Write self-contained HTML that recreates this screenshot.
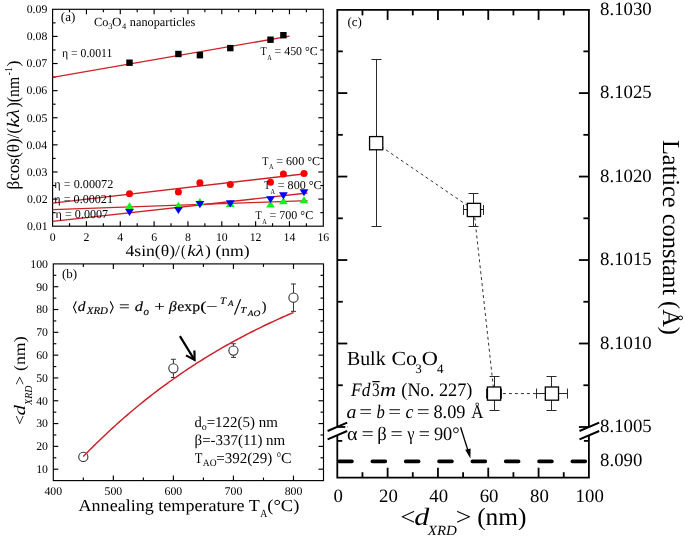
<!DOCTYPE html>
<html><head><meta charset="utf-8"><style>
html,body{margin:0;padding:0;background:#fff;}
svg{display:block;filter:blur(0.4px);}
text{font-family:"Liberation Serif", serif;fill:#000;text-rendering:geometricPrecision;}
</style></head><body>
<svg width="685" height="538" viewBox="0 0 685 538">
<rect width="685" height="538" fill="#fff"/>
<rect x="52.6" y="9.3" width="270.7" height="216.9" fill="none" stroke="#000" stroke-width="1.15"/>
<text x="52.6" y="240.5" font-size="11.8" text-anchor="middle" >0</text>
<line x1="69.52" y1="226.2" x2="69.52" y2="223.2" stroke="#000" stroke-width="1.15" />
<line x1="69.52" y1="9.3" x2="69.52" y2="12.3" stroke="#000" stroke-width="1.15" />
<line x1="86.44" y1="226.2" x2="86.44" y2="221.2" stroke="#000" stroke-width="1.15" />
<line x1="86.44" y1="9.3" x2="86.44" y2="14.3" stroke="#000" stroke-width="1.15" />
<text x="86.44" y="240.5" font-size="11.8" text-anchor="middle" >2</text>
<line x1="103.36" y1="226.2" x2="103.36" y2="223.2" stroke="#000" stroke-width="1.15" />
<line x1="103.36" y1="9.3" x2="103.36" y2="12.3" stroke="#000" stroke-width="1.15" />
<line x1="120.28" y1="226.2" x2="120.28" y2="221.2" stroke="#000" stroke-width="1.15" />
<line x1="120.28" y1="9.3" x2="120.28" y2="14.3" stroke="#000" stroke-width="1.15" />
<text x="120.28" y="240.5" font-size="11.8" text-anchor="middle" >4</text>
<line x1="137.19" y1="226.2" x2="137.19" y2="223.2" stroke="#000" stroke-width="1.15" />
<line x1="137.19" y1="9.3" x2="137.19" y2="12.3" stroke="#000" stroke-width="1.15" />
<line x1="154.11" y1="226.2" x2="154.11" y2="221.2" stroke="#000" stroke-width="1.15" />
<line x1="154.11" y1="9.3" x2="154.11" y2="14.3" stroke="#000" stroke-width="1.15" />
<text x="154.11" y="240.5" font-size="11.8" text-anchor="middle" >6</text>
<line x1="171.03" y1="226.2" x2="171.03" y2="223.2" stroke="#000" stroke-width="1.15" />
<line x1="171.03" y1="9.3" x2="171.03" y2="12.3" stroke="#000" stroke-width="1.15" />
<line x1="187.95" y1="226.2" x2="187.95" y2="221.2" stroke="#000" stroke-width="1.15" />
<line x1="187.95" y1="9.3" x2="187.95" y2="14.3" stroke="#000" stroke-width="1.15" />
<text x="187.95" y="240.5" font-size="11.8" text-anchor="middle" >8</text>
<line x1="204.87" y1="226.2" x2="204.87" y2="223.2" stroke="#000" stroke-width="1.15" />
<line x1="204.87" y1="9.3" x2="204.87" y2="12.3" stroke="#000" stroke-width="1.15" />
<line x1="221.79" y1="226.2" x2="221.79" y2="221.2" stroke="#000" stroke-width="1.15" />
<line x1="221.79" y1="9.3" x2="221.79" y2="14.3" stroke="#000" stroke-width="1.15" />
<text x="221.79" y="240.5" font-size="11.8" text-anchor="middle" >10</text>
<line x1="238.71" y1="226.2" x2="238.71" y2="223.2" stroke="#000" stroke-width="1.15" />
<line x1="238.71" y1="9.3" x2="238.71" y2="12.3" stroke="#000" stroke-width="1.15" />
<line x1="255.62" y1="226.2" x2="255.62" y2="221.2" stroke="#000" stroke-width="1.15" />
<line x1="255.62" y1="9.3" x2="255.62" y2="14.3" stroke="#000" stroke-width="1.15" />
<text x="255.62" y="240.5" font-size="11.8" text-anchor="middle" >12</text>
<line x1="272.54" y1="226.2" x2="272.54" y2="223.2" stroke="#000" stroke-width="1.15" />
<line x1="272.54" y1="9.3" x2="272.54" y2="12.3" stroke="#000" stroke-width="1.15" />
<line x1="289.46" y1="226.2" x2="289.46" y2="221.2" stroke="#000" stroke-width="1.15" />
<line x1="289.46" y1="9.3" x2="289.46" y2="14.3" stroke="#000" stroke-width="1.15" />
<text x="289.46" y="240.5" font-size="11.8" text-anchor="middle" >14</text>
<line x1="306.38" y1="226.2" x2="306.38" y2="223.2" stroke="#000" stroke-width="1.15" />
<line x1="306.38" y1="9.3" x2="306.38" y2="12.3" stroke="#000" stroke-width="1.15" />
<text x="323.3" y="240.5" font-size="11.8" text-anchor="middle" >16</text>
<text x="47.61" y="230" font-size="11.8" text-anchor="end" >0.01</text>
<line x1="52.6" y1="212.64" x2="55.6" y2="212.64" stroke="#000" stroke-width="1.15" />
<line x1="323.3" y1="212.64" x2="320.3" y2="212.64" stroke="#000" stroke-width="1.15" />
<line x1="52.6" y1="199.09" x2="57.6" y2="199.09" stroke="#000" stroke-width="1.15" />
<line x1="323.3" y1="199.09" x2="318.3" y2="199.09" stroke="#000" stroke-width="1.15" />
<text x="47.55" y="202.89" font-size="11.8" text-anchor="end" >0.02</text>
<line x1="52.6" y1="185.53" x2="55.6" y2="185.53" stroke="#000" stroke-width="1.15" />
<line x1="323.3" y1="185.53" x2="320.3" y2="185.53" stroke="#000" stroke-width="1.15" />
<line x1="52.6" y1="171.97" x2="57.6" y2="171.97" stroke="#000" stroke-width="1.15" />
<line x1="323.3" y1="171.97" x2="318.3" y2="171.97" stroke="#000" stroke-width="1.15" />
<text x="47.36" y="175.78" font-size="11.8" text-anchor="end" >0.03</text>
<line x1="52.6" y1="158.42" x2="55.6" y2="158.42" stroke="#000" stroke-width="1.15" />
<line x1="323.3" y1="158.42" x2="320.3" y2="158.42" stroke="#000" stroke-width="1.15" />
<line x1="52.6" y1="144.86" x2="57.6" y2="144.86" stroke="#000" stroke-width="1.15" />
<line x1="323.3" y1="144.86" x2="318.3" y2="144.86" stroke="#000" stroke-width="1.15" />
<text x="47.08" y="148.66" font-size="11.8" text-anchor="end" >0.04</text>
<line x1="52.6" y1="131.31" x2="55.6" y2="131.31" stroke="#000" stroke-width="1.15" />
<line x1="323.3" y1="131.31" x2="320.3" y2="131.31" stroke="#000" stroke-width="1.15" />
<line x1="52.6" y1="117.75" x2="57.6" y2="117.75" stroke="#000" stroke-width="1.15" />
<line x1="323.3" y1="117.75" x2="318.3" y2="117.75" stroke="#000" stroke-width="1.15" />
<text x="47.36" y="121.55" font-size="11.8" text-anchor="end" >0.05</text>
<line x1="52.6" y1="104.19" x2="55.6" y2="104.19" stroke="#000" stroke-width="1.15" />
<line x1="323.3" y1="104.19" x2="320.3" y2="104.19" stroke="#000" stroke-width="1.15" />
<line x1="52.6" y1="90.64" x2="57.6" y2="90.64" stroke="#000" stroke-width="1.15" />
<line x1="323.3" y1="90.64" x2="318.3" y2="90.64" stroke="#000" stroke-width="1.15" />
<text x="47.25" y="94.44" font-size="11.8" text-anchor="end" >0.06</text>
<line x1="52.6" y1="77.08" x2="55.6" y2="77.08" stroke="#000" stroke-width="1.15" />
<line x1="323.3" y1="77.08" x2="320.3" y2="77.08" stroke="#000" stroke-width="1.15" />
<line x1="52.6" y1="63.53" x2="57.6" y2="63.53" stroke="#000" stroke-width="1.15" />
<line x1="323.3" y1="63.53" x2="318.3" y2="63.53" stroke="#000" stroke-width="1.15" />
<text x="47.24" y="67.33" font-size="11.8" text-anchor="end" >0.07</text>
<line x1="52.6" y1="49.97" x2="55.6" y2="49.97" stroke="#000" stroke-width="1.15" />
<line x1="323.3" y1="49.97" x2="320.3" y2="49.97" stroke="#000" stroke-width="1.15" />
<line x1="52.6" y1="36.41" x2="57.6" y2="36.41" stroke="#000" stroke-width="1.15" />
<line x1="323.3" y1="36.41" x2="318.3" y2="36.41" stroke="#000" stroke-width="1.15" />
<text x="47.35" y="40.21" font-size="11.8" text-anchor="end" >0.08</text>
<line x1="52.6" y1="22.86" x2="55.6" y2="22.86" stroke="#000" stroke-width="1.15" />
<line x1="323.3" y1="22.86" x2="320.3" y2="22.86" stroke="#000" stroke-width="1.15" />
<text x="47.38" y="13.1" font-size="11.8" text-anchor="end" >0.09</text>
<line x1="52.6" y1="77.4" x2="289.5" y2="36.2" stroke="#cc2229" stroke-width="1.35" />
<line x1="52.6" y1="203.2" x2="307.5" y2="173.5" stroke="#cc2229" stroke-width="1.35" />
<line x1="52.6" y1="209.6" x2="307.5" y2="200.7" stroke="#cc2229" stroke-width="1.35" />
<line x1="52.6" y1="221.4" x2="307.5" y2="193" stroke="#cc2229" stroke-width="1.35" />
<rect x="126.3" y="59.5" width="6.4" height="6.4" fill="#000"/>
<rect x="175.2" y="50.8" width="6.4" height="6.4" fill="#000"/>
<rect x="196.7" y="52" width="6.4" height="6.4" fill="#000"/>
<rect x="227.1" y="44.9" width="6.4" height="6.4" fill="#000"/>
<rect x="267.3" y="36.5" width="6.4" height="6.4" fill="#000"/>
<rect x="280.2" y="32" width="6.4" height="6.4" fill="#000"/>
<path d="M129.5 202.2 L133.9 209.3 L125.1 209.3 Z" fill="#19f019"/>
<path d="M178.4 201.7 L182.8 208.8 L174 208.8 Z" fill="#19f019"/>
<path d="M199.9 198 L204.3 205.1 L195.5 205.1 Z" fill="#19f019"/>
<path d="M230.3 200 L234.7 207.1 L225.9 207.1 Z" fill="#19f019"/>
<path d="M270.5 200.4 L274.9 207.5 L266.1 207.5 Z" fill="#19f019"/>
<path d="M283.4 197.2 L287.8 204.3 L279 204.3 Z" fill="#19f019"/>
<path d="M304 196.2 L308.4 203.3 L299.6 203.3 Z" fill="#19f019"/>
<path d="M129.5 216.1 L133.9 209 L125.1 209 Z" fill="#0000f5"/>
<path d="M178.4 214.1 L182.8 207 L174 207 Z" fill="#0000f5"/>
<path d="M199.9 208.2 L204.3 201.1 L195.5 201.1 Z" fill="#0000f5"/>
<path d="M230.3 207.4 L234.7 200.3 L225.9 200.3 Z" fill="#0000f5"/>
<path d="M270.5 203.3 L274.9 196.2 L266.1 196.2 Z" fill="#0000f5"/>
<path d="M283.4 199.4 L287.8 192.3 L279 192.3 Z" fill="#0000f5"/>
<path d="M304 196.3 L308.4 189.2 L299.6 189.2 Z" fill="#0000f5"/>
<circle cx="129.5" cy="193.7" r="3.5" fill="#f80000"/>
<circle cx="178.4" cy="191.9" r="3.5" fill="#f80000"/>
<circle cx="199.9" cy="182.8" r="3.5" fill="#f80000"/>
<circle cx="230.3" cy="184.4" r="3.5" fill="#f80000"/>
<circle cx="270.5" cy="182.3" r="3.5" fill="#f80000"/>
<circle cx="283.4" cy="174.1" r="3.5" fill="#f80000"/>
<circle cx="304" cy="173.5" r="3.5" fill="#f80000"/>
<text x="60.83" y="21.3" font-size="13" >(a)</text>
<text x="94.09" y="26.4" font-size="12.4" textLength="14.37" lengthAdjust="spacingAndGlyphs" >Co</text>
<text x="108.29" y="29" font-size="8.5" >3</text>
<text x="111.96" y="26.4" font-size="12.4" textLength="9.48" lengthAdjust="spacingAndGlyphs" >O</text>
<text x="122.03" y="29" font-size="8.5" >4</text>
<text x="129.82" y="26.4" font-size="12.4" textLength="65.53" lengthAdjust="spacingAndGlyphs" >nanoparticles</text>
<text x="61.92" y="56.6" font-size="12.2" textLength="50.48" lengthAdjust="spacingAndGlyphs" >η = 0.0011</text>
<text x="260.62" y="55.3" font-size="12" textLength="6.26" lengthAdjust="spacingAndGlyphs" >T</text>
<text x="267.24" y="60" font-size="7.6" textLength="4.51" lengthAdjust="spacingAndGlyphs" >A</text>
<text x="274.51" y="55.3" font-size="12" textLength="43.25" lengthAdjust="spacingAndGlyphs" >= 450 °C</text>
<text x="262.31" y="164.6" font-size="12" textLength="6.26" lengthAdjust="spacingAndGlyphs" >T</text>
<text x="268.94" y="169.3" font-size="7.6" textLength="4.51" lengthAdjust="spacingAndGlyphs" >A</text>
<text x="276.2" y="164.6" font-size="12" textLength="43.97" lengthAdjust="spacingAndGlyphs" >= 600 °C</text>
<text x="263.91" y="189" font-size="12" textLength="6.26" lengthAdjust="spacingAndGlyphs" >T</text>
<text x="270.54" y="193.7" font-size="7.6" textLength="4.51" lengthAdjust="spacingAndGlyphs" >A</text>
<text x="277.8" y="189" font-size="12" textLength="43.77" lengthAdjust="spacingAndGlyphs" >= 800 °C</text>
<text x="255.61" y="219" font-size="12" textLength="6.26" lengthAdjust="spacingAndGlyphs" >T</text>
<text x="262.24" y="223.7" font-size="7.6" textLength="4.51" lengthAdjust="spacingAndGlyphs" >A</text>
<text x="269.5" y="219" font-size="12" textLength="43.66" lengthAdjust="spacingAndGlyphs" >= 700 °C</text>
<text x="54.31" y="187.5" font-size="12.2" textLength="58.96" lengthAdjust="spacingAndGlyphs" >η = 0.00072</text>
<text x="54.31" y="203.2" font-size="12.2" textLength="58.72" lengthAdjust="spacingAndGlyphs" >η = 0.00021</text>
<text x="55.61" y="217.6" font-size="12.2" textLength="52.54" lengthAdjust="spacingAndGlyphs" >η = 0.0007</text>
<text x="125.56" y="256.4" font-size="16" textLength="54.34" lengthAdjust="spacingAndGlyphs" >4sin(θ)/</text>
<text x="181.1" y="256.4" font-size="16" textLength="4.54" lengthAdjust="spacingAndGlyphs" >(</text>
<text x="187.25" y="256.4" font-size="16" textLength="16.83" lengthAdjust="spacingAndGlyphs" font-style="italic" >kλ</text>
<text x="205.13" y="256.4" font-size="16" textLength="44.54" lengthAdjust="spacingAndGlyphs" >) (nm)</text>
<g transform="translate(18.6,188.6) rotate(-90)"><text x="-0.9" y="0" font-size="17.5" textLength="61.55" lengthAdjust="spacingAndGlyphs" >βcos(θ)/(</text><text x="61.1" y="0" font-size="17.5" textLength="18.32" lengthAdjust="spacingAndGlyphs" font-style="italic" >kλ</text><text x="81.19" y="0" font-size="17.5" textLength="30.65" lengthAdjust="spacingAndGlyphs" >)(nm</text><text x="113.22" y="-7" font-size="10.5" textLength="8.49" lengthAdjust="spacingAndGlyphs" >-1</text><text x="122.22" y="0" font-size="17.5" textLength="5.96" lengthAdjust="spacingAndGlyphs" >)</text></g>
<rect x="53.3" y="263.9" width="270.2" height="216.7" fill="none" stroke="#000" stroke-width="1.15"/>
<text x="53.3" y="494.6" font-size="11.8" text-anchor="middle" >400</text>
<line x1="83.32" y1="480.6" x2="83.32" y2="477.6" stroke="#000" stroke-width="1.15" />
<line x1="83.32" y1="263.9" x2="83.32" y2="266.9" stroke="#000" stroke-width="1.15" />
<line x1="113.34" y1="480.6" x2="113.34" y2="475.6" stroke="#000" stroke-width="1.15" />
<line x1="113.34" y1="263.9" x2="113.34" y2="268.9" stroke="#000" stroke-width="1.15" />
<text x="113.34" y="494.6" font-size="11.8" text-anchor="middle" >500</text>
<line x1="143.37" y1="480.6" x2="143.37" y2="477.6" stroke="#000" stroke-width="1.15" />
<line x1="143.37" y1="263.9" x2="143.37" y2="266.9" stroke="#000" stroke-width="1.15" />
<line x1="173.39" y1="480.6" x2="173.39" y2="475.6" stroke="#000" stroke-width="1.15" />
<line x1="173.39" y1="263.9" x2="173.39" y2="268.9" stroke="#000" stroke-width="1.15" />
<text x="173.39" y="494.6" font-size="11.8" text-anchor="middle" >600</text>
<line x1="203.41" y1="480.6" x2="203.41" y2="477.6" stroke="#000" stroke-width="1.15" />
<line x1="203.41" y1="263.9" x2="203.41" y2="266.9" stroke="#000" stroke-width="1.15" />
<line x1="233.43" y1="480.6" x2="233.43" y2="475.6" stroke="#000" stroke-width="1.15" />
<line x1="233.43" y1="263.9" x2="233.43" y2="268.9" stroke="#000" stroke-width="1.15" />
<text x="233.43" y="494.6" font-size="11.8" text-anchor="middle" >700</text>
<line x1="263.46" y1="480.6" x2="263.46" y2="477.6" stroke="#000" stroke-width="1.15" />
<line x1="263.46" y1="263.9" x2="263.46" y2="266.9" stroke="#000" stroke-width="1.15" />
<line x1="293.48" y1="480.6" x2="293.48" y2="475.6" stroke="#000" stroke-width="1.15" />
<line x1="293.48" y1="263.9" x2="293.48" y2="268.9" stroke="#000" stroke-width="1.15" />
<text x="293.48" y="494.6" font-size="11.8" text-anchor="middle" >800</text>
<line x1="53.3" y1="469.19" x2="58.3" y2="469.19" stroke="#000" stroke-width="1.15" />
<line x1="323.5" y1="469.19" x2="318.5" y2="469.19" stroke="#000" stroke-width="1.15" />
<text x="47.95" y="472.99" font-size="11.8" text-anchor="end" >10</text>
<line x1="53.3" y1="457.79" x2="56.3" y2="457.79" stroke="#000" stroke-width="1.15" />
<line x1="323.5" y1="457.79" x2="320.5" y2="457.79" stroke="#000" stroke-width="1.15" />
<line x1="53.3" y1="446.38" x2="58.3" y2="446.38" stroke="#000" stroke-width="1.15" />
<line x1="323.5" y1="446.38" x2="318.5" y2="446.38" stroke="#000" stroke-width="1.15" />
<text x="47.95" y="450.18" font-size="11.8" text-anchor="end" >20</text>
<line x1="53.3" y1="434.98" x2="56.3" y2="434.98" stroke="#000" stroke-width="1.15" />
<line x1="323.5" y1="434.98" x2="320.5" y2="434.98" stroke="#000" stroke-width="1.15" />
<line x1="53.3" y1="423.57" x2="58.3" y2="423.57" stroke="#000" stroke-width="1.15" />
<line x1="323.5" y1="423.57" x2="318.5" y2="423.57" stroke="#000" stroke-width="1.15" />
<text x="47.95" y="427.37" font-size="11.8" text-anchor="end" >30</text>
<line x1="53.3" y1="412.17" x2="56.3" y2="412.17" stroke="#000" stroke-width="1.15" />
<line x1="323.5" y1="412.17" x2="320.5" y2="412.17" stroke="#000" stroke-width="1.15" />
<line x1="53.3" y1="400.76" x2="58.3" y2="400.76" stroke="#000" stroke-width="1.15" />
<line x1="323.5" y1="400.76" x2="318.5" y2="400.76" stroke="#000" stroke-width="1.15" />
<text x="47.95" y="404.56" font-size="11.8" text-anchor="end" >40</text>
<line x1="53.3" y1="389.36" x2="56.3" y2="389.36" stroke="#000" stroke-width="1.15" />
<line x1="323.5" y1="389.36" x2="320.5" y2="389.36" stroke="#000" stroke-width="1.15" />
<line x1="53.3" y1="377.95" x2="58.3" y2="377.95" stroke="#000" stroke-width="1.15" />
<line x1="323.5" y1="377.95" x2="318.5" y2="377.95" stroke="#000" stroke-width="1.15" />
<text x="47.95" y="381.75" font-size="11.8" text-anchor="end" >50</text>
<line x1="53.3" y1="366.55" x2="56.3" y2="366.55" stroke="#000" stroke-width="1.15" />
<line x1="323.5" y1="366.55" x2="320.5" y2="366.55" stroke="#000" stroke-width="1.15" />
<line x1="53.3" y1="355.14" x2="58.3" y2="355.14" stroke="#000" stroke-width="1.15" />
<line x1="323.5" y1="355.14" x2="318.5" y2="355.14" stroke="#000" stroke-width="1.15" />
<text x="47.95" y="358.94" font-size="11.8" text-anchor="end" >60</text>
<line x1="53.3" y1="343.74" x2="56.3" y2="343.74" stroke="#000" stroke-width="1.15" />
<line x1="323.5" y1="343.74" x2="320.5" y2="343.74" stroke="#000" stroke-width="1.15" />
<line x1="53.3" y1="332.33" x2="58.3" y2="332.33" stroke="#000" stroke-width="1.15" />
<line x1="323.5" y1="332.33" x2="318.5" y2="332.33" stroke="#000" stroke-width="1.15" />
<text x="47.95" y="336.13" font-size="11.8" text-anchor="end" >70</text>
<line x1="53.3" y1="320.93" x2="56.3" y2="320.93" stroke="#000" stroke-width="1.15" />
<line x1="323.5" y1="320.93" x2="320.5" y2="320.93" stroke="#000" stroke-width="1.15" />
<line x1="53.3" y1="309.52" x2="58.3" y2="309.52" stroke="#000" stroke-width="1.15" />
<line x1="323.5" y1="309.52" x2="318.5" y2="309.52" stroke="#000" stroke-width="1.15" />
<text x="47.95" y="313.32" font-size="11.8" text-anchor="end" >80</text>
<line x1="53.3" y1="298.12" x2="56.3" y2="298.12" stroke="#000" stroke-width="1.15" />
<line x1="323.5" y1="298.12" x2="320.5" y2="298.12" stroke="#000" stroke-width="1.15" />
<line x1="53.3" y1="286.71" x2="58.3" y2="286.71" stroke="#000" stroke-width="1.15" />
<line x1="323.5" y1="286.71" x2="318.5" y2="286.71" stroke="#000" stroke-width="1.15" />
<text x="47.95" y="290.51" font-size="11.8" text-anchor="end" >90</text>
<line x1="53.3" y1="275.31" x2="56.3" y2="275.31" stroke="#000" stroke-width="1.15" />
<line x1="323.5" y1="275.31" x2="320.5" y2="275.31" stroke="#000" stroke-width="1.15" />
<text x="47.95" y="267.7" font-size="11.8" text-anchor="end" >100</text>
<circle cx="83.32" cy="456.88" r="4.6" fill="#fff" stroke="#333" stroke-width="1.1"/>
<line x1="173.39" y1="359.25" x2="173.39" y2="377.5" stroke="#333" stroke-width="1.0" />
<line x1="170.89" y1="359.25" x2="175.89" y2="359.25" stroke="#333" stroke-width="1.0" />
<line x1="170.89" y1="377.5" x2="175.89" y2="377.5" stroke="#333" stroke-width="1.0" />
<circle cx="173.39" cy="368.37" r="4.6" fill="#fff" stroke="#333" stroke-width="1.1"/>
<line x1="233.43" y1="343.74" x2="233.43" y2="357.42" stroke="#333" stroke-width="1.0" />
<line x1="230.93" y1="343.74" x2="235.93" y2="343.74" stroke="#333" stroke-width="1.0" />
<line x1="230.93" y1="357.42" x2="235.93" y2="357.42" stroke="#333" stroke-width="1.0" />
<circle cx="233.43" cy="350.58" r="4.6" fill="#fff" stroke="#333" stroke-width="1.1"/>
<line x1="293.48" y1="283.97" x2="293.48" y2="311.35" stroke="#333" stroke-width="1.0" />
<line x1="290.98" y1="283.97" x2="295.98" y2="283.97" stroke="#333" stroke-width="1.0" />
<line x1="290.98" y1="311.35" x2="295.98" y2="311.35" stroke="#333" stroke-width="1.0" />
<circle cx="293.48" cy="297.66" r="4.6" fill="#fff" stroke="#333" stroke-width="1.1"/>
<polyline points="83.32,456.52 85.42,454.35 87.53,452.2 89.63,450.07 91.73,447.96 93.83,445.87 95.93,443.8 98.03,441.74 100.13,439.7 102.24,437.69 104.34,435.68 106.44,433.7 108.54,431.74 110.64,429.79 112.74,427.86 114.85,425.95 116.95,424.05 119.05,422.17 121.15,420.31 123.25,418.46 125.35,416.63 127.45,414.82 129.56,413.02 131.66,411.24 133.76,409.47 135.86,407.72 137.96,405.99 140.06,404.27 142.17,402.57 144.27,400.88 146.37,399.2 148.47,397.55 150.57,395.9 152.67,394.27 154.78,392.66 156.88,391.06 158.98,389.47 161.08,387.9 163.18,386.34 165.28,384.8 167.38,383.27 169.49,381.75 171.59,380.25 173.69,378.76 175.79,377.28 177.89,375.82 179.99,374.37 182.1,372.93 184.2,371.5 186.3,370.09 188.4,368.69 190.5,367.3 192.6,365.93 194.7,364.57 196.81,363.22 198.91,361.88 201.01,360.55 203.11,359.24 205.21,357.93 207.31,356.64 209.42,355.36 211.52,354.09 213.62,352.83 215.72,351.59 217.82,350.35 219.92,349.13 222.02,347.91 224.13,346.71 226.23,345.52 228.33,344.34 230.43,343.17 232.53,342.01 234.63,340.86 236.74,339.72 238.84,338.59 240.94,337.47 243.04,336.36 245.14,335.26 247.24,334.17 249.35,333.09 251.45,332.02 253.55,330.96 255.65,329.9 257.75,328.86 259.85,327.83 261.95,326.8 264.06,325.79 266.16,324.78 268.26,323.79 270.36,322.8 272.46,321.82 274.56,320.85 276.67,319.89 278.77,318.93 280.87,317.99 282.97,317.05 285.07,316.12 287.17,315.2 289.27,314.29 291.38,313.39 293.48,312.49" fill="none" stroke="#cc2229" stroke-width="1.5"/>
<line x1="179.9" y1="336.1" x2="194.3" y2="359.6" stroke="#000" stroke-width="2.2" />
<path d="M186.0 355.4 L194.6 360.0 L194.4 350.5" fill="none" stroke="#000" stroke-width="2.2"/>
<path d="M76.3 301.2 L73.5 307.3 L76.3 313.4" fill="none" stroke="#000" stroke-width="1.05"/>
<path d="M110.2 301.2 L113.2 307.3 L110.2 313.4" fill="none" stroke="#000" stroke-width="1.05"/>
<text x="77.73" y="311.4" font-size="14" textLength="7.73" lengthAdjust="spacingAndGlyphs" font-style="italic" stroke="#000" stroke-width="0.15">d</text>
<text x="86.76" y="314.4" font-size="10.3" textLength="21.2" lengthAdjust="spacingAndGlyphs" font-style="italic" stroke="#000" stroke-width="0.15">XRD</text>
<text x="119.06" y="311.4" font-size="14" textLength="10.67" lengthAdjust="spacingAndGlyphs" stroke="#000" stroke-width="0.15">=</text>
<text x="134.7" y="311.4" font-size="14" textLength="8.26" lengthAdjust="spacingAndGlyphs" font-style="italic" stroke="#000" stroke-width="0.15">d</text>
<text x="143.38" y="314.6" font-size="11" textLength="5.45" lengthAdjust="spacingAndGlyphs" font-style="italic" stroke="#000" stroke-width="0.15">o</text>
<text x="154.17" y="311.4" font-size="14" textLength="10.54" lengthAdjust="spacingAndGlyphs" stroke="#000" stroke-width="0.15">+</text>
<text x="168.95" y="311.4" font-size="14" textLength="7.67" lengthAdjust="spacingAndGlyphs" font-style="italic" stroke="#000" stroke-width="0.15">β</text>
<text x="177.29" y="311.4" font-size="14" textLength="22.73" lengthAdjust="spacingAndGlyphs" stroke="#000" stroke-width="0.15">exp</text>
<text x="200.26" y="311.4" font-size="14" textLength="6.35" lengthAdjust="spacingAndGlyphs" stroke="#000" stroke-width="0.15">(</text>
<text x="206.2" y="311.4" font-size="14" textLength="11.27" lengthAdjust="spacingAndGlyphs" stroke="#000" stroke-width="0.15">−</text>
<text x="220.09" y="304" font-size="10" textLength="6.07" lengthAdjust="spacingAndGlyphs" font-style="italic" stroke="#000" stroke-width="0.15">T</text>
<text x="228.1" y="306.4" font-size="8.2" textLength="5.57" lengthAdjust="spacingAndGlyphs" font-style="italic" stroke="#000" stroke-width="0.15">A</text>
<line x1="234.5" y1="314.8" x2="240.6" y2="299.2" stroke="#000" stroke-width="1.1" />
<text x="240.19" y="313.3" font-size="9.2" textLength="6.07" lengthAdjust="spacingAndGlyphs" font-style="italic" stroke="#000" stroke-width="0.15">T</text>
<text x="247.82" y="316.4" font-size="8.2" textLength="12.6" lengthAdjust="spacingAndGlyphs" font-style="italic" stroke="#000" stroke-width="0.15">AO</text>
<text x="261.75" y="311.4" font-size="14" textLength="4.67" lengthAdjust="spacingAndGlyphs" stroke="#000" stroke-width="0.15">)</text>
<text x="194.47" y="427" font-size="15" textLength="7.31" lengthAdjust="spacingAndGlyphs" >d</text>
<text x="201.81" y="430.2" font-size="10" textLength="5.07" lengthAdjust="spacingAndGlyphs" >o</text>
<text x="206.65" y="427" font-size="15" textLength="71.18" lengthAdjust="spacingAndGlyphs" >=122(5) nm</text>
<text x="194.54" y="444.5" font-size="15" textLength="90.69" lengthAdjust="spacingAndGlyphs" >β=-337(11) nm</text>
<text x="194.77" y="462.8" font-size="15" textLength="7.63" lengthAdjust="spacingAndGlyphs" >T</text>
<text x="202.81" y="466" font-size="10" textLength="13.78" lengthAdjust="spacingAndGlyphs" >AO</text>
<text x="216.35" y="462.8" font-size="15" textLength="56.01" lengthAdjust="spacingAndGlyphs" >=392(29)</text>
<text x="276.9" y="457.3" font-size="10" textLength="3.89" lengthAdjust="spacingAndGlyphs" >o</text>
<text x="280.95" y="462.8" font-size="15" textLength="10.63" lengthAdjust="spacingAndGlyphs" >C</text>
<text x="62.03" y="278.3" font-size="13" >(b)</text>
<g transform="translate(24.8,424.1) rotate(-90)"><text x="-0.66" y="0" font-size="16" textLength="9.7" lengthAdjust="spacingAndGlyphs" >&lt;</text><text x="8.57" y="0" font-size="16" textLength="10.48" lengthAdjust="spacingAndGlyphs" font-style="italic" >d</text><text x="19.23" y="7.4" font-size="10.5" textLength="19.32" lengthAdjust="spacingAndGlyphs" font-style="italic" >XRD</text><text x="39.19" y="0" font-size="16" textLength="8.97" lengthAdjust="spacingAndGlyphs" >&gt;</text><text x="53.12" y="0" font-size="16" textLength="34.56" lengthAdjust="spacingAndGlyphs" >(nm)</text></g>
<text x="78.52" y="510.6" font-size="16.8" textLength="181.28" lengthAdjust="spacingAndGlyphs" >Annealing temperature T</text>
<text x="260.2" y="517.4" font-size="11" textLength="7.07" lengthAdjust="spacingAndGlyphs" >A</text>
<text x="267.29" y="510.6" font-size="16.8" textLength="32.13" lengthAdjust="spacingAndGlyphs" >(°C)</text>
<path d="M337.3 426.8 L337.3 9.9 L588.9 9.9 L588.9 426.8" fill="none" stroke="#000" stroke-width="1.8"/>
<path d="M337.3 435.0 L337.3 477.7 L588.9 477.7 L588.9 435.0" fill="none" stroke="#000" stroke-width="1.8"/>
<text x="338.1" y="502.2" font-size="18.8" text-anchor="middle" >0</text>
<line x1="362.46" y1="477.7" x2="362.46" y2="472.2" stroke="#000" stroke-width="1.8" />
<line x1="362.46" y1="9.9" x2="362.46" y2="15.4" stroke="#000" stroke-width="1.8" />
<line x1="387.62" y1="477.7" x2="387.62" y2="467.7" stroke="#000" stroke-width="1.8" />
<line x1="387.62" y1="9.9" x2="387.62" y2="19.9" stroke="#000" stroke-width="1.8" />
<text x="388.42" y="502.2" font-size="18.8" text-anchor="middle" >20</text>
<line x1="412.78" y1="477.7" x2="412.78" y2="472.2" stroke="#000" stroke-width="1.8" />
<line x1="412.78" y1="9.9" x2="412.78" y2="15.4" stroke="#000" stroke-width="1.8" />
<line x1="437.94" y1="477.7" x2="437.94" y2="467.7" stroke="#000" stroke-width="1.8" />
<line x1="437.94" y1="9.9" x2="437.94" y2="19.9" stroke="#000" stroke-width="1.8" />
<text x="438.74" y="502.2" font-size="18.8" text-anchor="middle" >40</text>
<line x1="463.1" y1="477.7" x2="463.1" y2="472.2" stroke="#000" stroke-width="1.8" />
<line x1="463.1" y1="9.9" x2="463.1" y2="15.4" stroke="#000" stroke-width="1.8" />
<line x1="488.26" y1="477.7" x2="488.26" y2="467.7" stroke="#000" stroke-width="1.8" />
<line x1="488.26" y1="9.9" x2="488.26" y2="19.9" stroke="#000" stroke-width="1.8" />
<text x="489.06" y="502.2" font-size="18.8" text-anchor="middle" >60</text>
<line x1="513.42" y1="477.7" x2="513.42" y2="472.2" stroke="#000" stroke-width="1.8" />
<line x1="513.42" y1="9.9" x2="513.42" y2="15.4" stroke="#000" stroke-width="1.8" />
<line x1="538.58" y1="477.7" x2="538.58" y2="467.7" stroke="#000" stroke-width="1.8" />
<line x1="538.58" y1="9.9" x2="538.58" y2="19.9" stroke="#000" stroke-width="1.8" />
<text x="539.38" y="502.2" font-size="18.8" text-anchor="middle" >80</text>
<line x1="563.74" y1="477.7" x2="563.74" y2="472.2" stroke="#000" stroke-width="1.8" />
<line x1="563.74" y1="9.9" x2="563.74" y2="15.4" stroke="#000" stroke-width="1.8" />
<text x="589.7" y="502.2" font-size="18.8" text-anchor="middle" >100</text>
<text x="600.08" y="14.93" font-size="18.8" >8.1030</text>
<line x1="337.3" y1="51.36" x2="342.8" y2="51.36" stroke="#000" stroke-width="1.8" />
<line x1="588.9" y1="51.36" x2="583.4" y2="51.36" stroke="#000" stroke-width="1.8" />
<line x1="337.3" y1="93.1" x2="347.3" y2="93.1" stroke="#000" stroke-width="1.8" />
<line x1="588.9" y1="93.1" x2="578.9" y2="93.1" stroke="#000" stroke-width="1.8" />
<text x="600.08" y="98.4" font-size="18.8" >8.1025</text>
<line x1="337.3" y1="134.84" x2="342.8" y2="134.84" stroke="#000" stroke-width="1.8" />
<line x1="588.9" y1="134.84" x2="583.4" y2="134.84" stroke="#000" stroke-width="1.8" />
<line x1="337.3" y1="176.57" x2="347.3" y2="176.57" stroke="#000" stroke-width="1.8" />
<line x1="588.9" y1="176.57" x2="578.9" y2="176.57" stroke="#000" stroke-width="1.8" />
<text x="600.08" y="181.87" font-size="18.8" >8.1020</text>
<line x1="337.3" y1="218.31" x2="342.8" y2="218.31" stroke="#000" stroke-width="1.8" />
<line x1="588.9" y1="218.31" x2="583.4" y2="218.31" stroke="#000" stroke-width="1.8" />
<line x1="337.3" y1="260.04" x2="347.3" y2="260.04" stroke="#000" stroke-width="1.8" />
<line x1="588.9" y1="260.04" x2="578.9" y2="260.04" stroke="#000" stroke-width="1.8" />
<text x="600.08" y="265.34" font-size="18.8" >8.1015</text>
<line x1="337.3" y1="301.77" x2="342.8" y2="301.77" stroke="#000" stroke-width="1.8" />
<line x1="588.9" y1="301.77" x2="583.4" y2="301.77" stroke="#000" stroke-width="1.8" />
<line x1="337.3" y1="343.51" x2="347.3" y2="343.51" stroke="#000" stroke-width="1.8" />
<line x1="588.9" y1="343.51" x2="578.9" y2="343.51" stroke="#000" stroke-width="1.8" />
<text x="600.08" y="348.81" font-size="18.8" >8.1010</text>
<line x1="337.3" y1="385.25" x2="342.8" y2="385.25" stroke="#000" stroke-width="1.8" />
<line x1="588.9" y1="385.25" x2="583.4" y2="385.25" stroke="#000" stroke-width="1.8" />
<line x1="337.3" y1="426.98" x2="347.3" y2="426.98" stroke="#000" stroke-width="1.8" />
<line x1="588.9" y1="426.98" x2="578.9" y2="426.98" stroke="#000" stroke-width="1.8" />
<text x="600.08" y="432.28" font-size="18.8" >8.1005</text>
<line x1="337.3" y1="440.9" x2="342.3" y2="440.9" stroke="#000" stroke-width="1.8" />
<line x1="588.9" y1="440.9" x2="583.9" y2="440.9" stroke="#000" stroke-width="1.8" />
<text x="600.08" y="466.4" font-size="18.8" >8.090</text>
<polygon points="327.6,431.3 347.2,422.8 347.2,431.0 327.6,439.5" fill="#fff"/>
<line x1="327.6" y1="431" x2="347.2" y2="422.6" stroke="#000" stroke-width="2.0" />
<line x1="327.6" y1="439.4" x2="347.2" y2="431" stroke="#000" stroke-width="2.0" />
<polygon points="579.5,431.3 599.2,422.8 599.2,431.0 579.5,439.5" fill="#fff"/>
<line x1="579.5" y1="431" x2="599.2" y2="422.6" stroke="#000" stroke-width="2.0" />
<line x1="579.5" y1="439.4" x2="599.2" y2="431" stroke="#000" stroke-width="2.0" />
<line x1="337.3" y1="426.98" x2="345.3" y2="426.98" stroke="#000" stroke-width="1.8" />
<line x1="339.0" y1="461.4" x2="588.9" y2="461.4" stroke="#000" stroke-width="3.6" stroke-dasharray="13 20.33" stroke-linecap="round"/>
<polyline points="376.17,143.18 473.92,209.96 494.05,393.59 551.91,393.59" fill="none" stroke="#333" stroke-width="1" stroke-dasharray="3 3"/>
<line x1="376.5" y1="59.71" x2="376.5" y2="226.65" stroke="#2a2a2a" stroke-width="1.0" />
<line x1="371.5" y1="59.5" x2="381.5" y2="59.5" stroke="#2a2a2a" stroke-width="1.0" />
<line x1="371.5" y1="226.5" x2="381.5" y2="226.5" stroke="#2a2a2a" stroke-width="1.0" />
<rect x="369.57" y="136.58" width="13.2" height="13.2" fill="#fff" stroke="#000" stroke-width="1.3"/>
<line x1="473.5" y1="193.26" x2="473.5" y2="226.65" stroke="#2a2a2a" stroke-width="1.0" />
<line x1="468.5" y1="193.5" x2="478.5" y2="193.5" stroke="#2a2a2a" stroke-width="1.0" />
<line x1="468.5" y1="226.5" x2="478.5" y2="226.5" stroke="#2a2a2a" stroke-width="1.0" />
<line x1="463.5" y1="209.5" x2="483.5" y2="209.5" stroke="#2a2a2a" stroke-width="1.0" />
<line x1="463.5" y1="204.96" x2="463.5" y2="214.96" stroke="#2a2a2a" stroke-width="1.0" />
<line x1="483.5" y1="204.96" x2="483.5" y2="214.96" stroke="#2a2a2a" stroke-width="1.0" />
<rect x="467.32" y="203.36" width="13.2" height="13.2" fill="#fff" stroke="#000" stroke-width="1.3"/>
<line x1="494.5" y1="376.9" x2="494.5" y2="410.29" stroke="#2a2a2a" stroke-width="1.0" />
<line x1="489.5" y1="376.5" x2="499.5" y2="376.5" stroke="#2a2a2a" stroke-width="1.0" />
<line x1="489.5" y1="410.5" x2="499.5" y2="410.5" stroke="#2a2a2a" stroke-width="1.0" />
<line x1="486.5" y1="393.5" x2="501.5" y2="393.5" stroke="#2a2a2a" stroke-width="1.0" />
<line x1="486.5" y1="388.59" x2="486.5" y2="398.59" stroke="#2a2a2a" stroke-width="1.0" />
<line x1="501.5" y1="388.59" x2="501.5" y2="398.59" stroke="#2a2a2a" stroke-width="1.0" />
<rect x="487.45" y="386.99" width="13.2" height="13.2" fill="#fff" stroke="#000" stroke-width="1.3"/>
<line x1="551.5" y1="376.9" x2="551.5" y2="410.29" stroke="#2a2a2a" stroke-width="1.0" />
<line x1="546.5" y1="376.5" x2="556.5" y2="376.5" stroke="#2a2a2a" stroke-width="1.0" />
<line x1="546.5" y1="410.5" x2="556.5" y2="410.5" stroke="#2a2a2a" stroke-width="1.0" />
<line x1="536.5" y1="393.5" x2="567.5" y2="393.5" stroke="#2a2a2a" stroke-width="1.0" />
<line x1="536.5" y1="388.59" x2="536.5" y2="398.59" stroke="#2a2a2a" stroke-width="1.0" />
<line x1="567.5" y1="388.59" x2="567.5" y2="398.59" stroke="#2a2a2a" stroke-width="1.0" />
<rect x="545.31" y="386.99" width="13.2" height="13.2" fill="#fff" stroke="#000" stroke-width="1.3"/>
<text x="347.53" y="25.8" font-size="13" >(c)</text>
<text x="346.93" y="365.2" font-size="20" textLength="38.67" lengthAdjust="spacingAndGlyphs" >Bulk</text>
<text x="391.4" y="365.2" font-size="20" textLength="25.53" lengthAdjust="spacingAndGlyphs" >Co</text>
<text x="415.28" y="373" font-size="13" >3</text>
<text x="421.78" y="365.2" font-size="20" textLength="16.13" lengthAdjust="spacingAndGlyphs" >O</text>
<text x="437.05" y="373" font-size="13" >4</text>
<text x="350.99" y="395.6" font-size="19" textLength="19.36" lengthAdjust="spacingAndGlyphs" font-style="italic" >Fd</text>
<text x="371.97" y="395.6" font-size="19" textLength="7.63" lengthAdjust="spacingAndGlyphs" >3</text>
<line x1="372.4" y1="381.6" x2="379.7" y2="381.6" stroke="#000" stroke-width="1.2" />
<text x="380" y="395.6" font-size="19" textLength="16.03" lengthAdjust="spacingAndGlyphs" font-style="italic" >m</text>
<text x="401.3" y="395.6" font-size="19" textLength="71.11" lengthAdjust="spacingAndGlyphs" >(No. 227)</text>
<text x="346.61" y="417.6" font-size="19" textLength="9.94" lengthAdjust="spacingAndGlyphs" font-style="italic" >a</text>
<text x="359.37" y="417.6" font-size="19" textLength="12.85" lengthAdjust="spacingAndGlyphs" fill="#555">=</text>
<text x="376.38" y="417.6" font-size="19" textLength="8.32" lengthAdjust="spacingAndGlyphs" font-style="italic" >b</text>
<text x="388.37" y="417.6" font-size="19" textLength="12.85" lengthAdjust="spacingAndGlyphs" fill="#555">=</text>
<text x="405.45" y="417.6" font-size="19" textLength="7.94" lengthAdjust="spacingAndGlyphs" font-style="italic" >c</text>
<text x="416.65" y="417.6" font-size="19" textLength="12.97" lengthAdjust="spacingAndGlyphs" fill="#555">=</text>
<text x="433.4" y="417.6" font-size="19" textLength="32.05" lengthAdjust="spacingAndGlyphs" >8.09</text>
<text x="471.34" y="417.6" font-size="19" textLength="12.19" lengthAdjust="spacingAndGlyphs" >Å</text>
<text x="347.04" y="440.4" font-size="19" textLength="10.52" lengthAdjust="spacingAndGlyphs" >α</text>
<text x="361.62" y="440.4" font-size="19" textLength="12.24" lengthAdjust="spacingAndGlyphs" fill="#555">=</text>
<text x="377.3" y="440.4" font-size="19" textLength="9.5" lengthAdjust="spacingAndGlyphs" >β</text>
<text x="390.52" y="440.4" font-size="19" textLength="12.24" lengthAdjust="spacingAndGlyphs" fill="#555">=</text>
<text x="407.42" y="440.4" font-size="19" textLength="6.94" lengthAdjust="spacingAndGlyphs" >γ</text>
<text x="418.72" y="440.4" font-size="19" textLength="11.15" lengthAdjust="spacingAndGlyphs" fill="#555">=</text>
<text x="433.91" y="440.4" font-size="19" textLength="25.69" lengthAdjust="spacingAndGlyphs" >90°</text>
<line x1="460.6" y1="427.3" x2="468.6" y2="452.5" stroke="#000" stroke-width="1.3" />
<path d="M470.4 458.5 L465.2 449.8 L470.6 448.4 Z" fill="#000"/>
<text x="400.26" y="524.8" font-size="25" textLength="15.15" lengthAdjust="spacingAndGlyphs" >&lt;</text>
<text x="414.19" y="524.8" font-size="25" textLength="15.04" lengthAdjust="spacingAndGlyphs" font-style="italic" >d</text>
<text x="427.8" y="534.7" font-size="14" textLength="29.13" lengthAdjust="spacingAndGlyphs" font-style="italic" >XRD</text>
<text x="455.68" y="524.8" font-size="25" textLength="15.76" lengthAdjust="spacingAndGlyphs" >&gt;</text>
<text x="477.18" y="524.8" font-size="25" textLength="49.33" lengthAdjust="spacingAndGlyphs" >(nm)</text>
<text transform="translate(662.6,140.6) rotate(90)" font-size="24.4"><tspan x="-0.7">Lattice constant (Å)</tspan></text>
</svg>
</body></html>
